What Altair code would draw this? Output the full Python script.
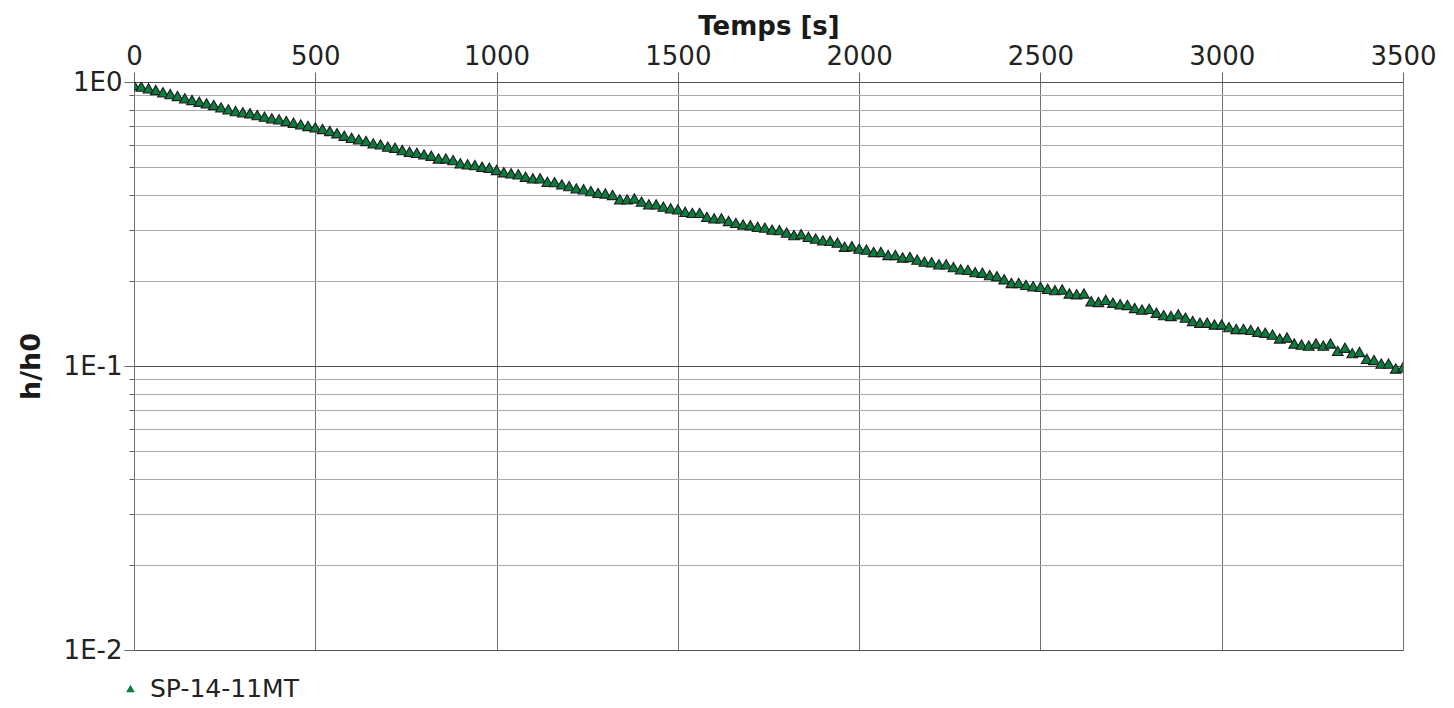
import altair as alt
import pandas as pd

# Time in seconds (one reading every 20 s)
times = list(range(0, 3501, 20))

# h/h0
h_ratio = [
    0.976, 0.963, 0.950, 0.937, 0.920, 0.907, 0.893, 0.876, 0.864, 0.852,
    0.841, 0.830, 0.814, 0.801, 0.790, 0.782, 0.776, 0.765, 0.755, 0.745,
    0.739, 0.729, 0.719, 0.709, 0.700, 0.692, 0.683, 0.672, 0.660, 0.647,
    0.636, 0.628, 0.620, 0.608, 0.603, 0.592, 0.587, 0.576, 0.568, 0.563,
    0.556, 0.550, 0.538, 0.538, 0.531, 0.517, 0.513, 0.510, 0.503, 0.499,
    0.490, 0.481, 0.477, 0.473, 0.464, 0.458, 0.458, 0.445, 0.444, 0.436,
    0.430, 0.422, 0.419, 0.413, 0.407, 0.405, 0.400, 0.386, 0.386, 0.389,
    0.379, 0.371, 0.371, 0.364, 0.359, 0.356, 0.349, 0.346, 0.346, 0.335,
    0.331, 0.331, 0.324, 0.319, 0.315, 0.313, 0.309, 0.307, 0.302, 0.301,
    0.295, 0.289, 0.291, 0.285, 0.281, 0.277, 0.276, 0.272, 0.263, 0.264,
    0.259, 0.257, 0.252, 0.252, 0.246, 0.246, 0.241, 0.242, 0.237, 0.233,
    0.232, 0.228, 0.228, 0.223, 0.219, 0.218, 0.214, 0.213, 0.209, 0.207,
    0.202, 0.196, 0.196, 0.193, 0.191, 0.190, 0.187, 0.185, 0.186, 0.180,
    0.179, 0.180, 0.169, 0.168, 0.171, 0.167, 0.165, 0.164, 0.160, 0.158,
    0.159, 0.154, 0.151, 0.150, 0.152, 0.148, 0.144, 0.142, 0.142, 0.140,
    0.140, 0.137, 0.135, 0.135, 0.134, 0.132, 0.131, 0.129, 0.125, 0.126,
    0.120, 0.119, 0.118, 0.120, 0.118, 0.120, 0.113, 0.116, 0.111, 0.112,
    0.106, 0.105, 0.102, 0.102, 0.098, 0.099,
]

series_name = "SP-14-11MT"

x_ticks = [0, 500, 1000, 1500, 2000, 2500, 3000, 3500]
y_ticks = [
    0.01, 0.02, 0.03, 0.04, 0.05, 0.06, 0.07, 0.08, 0.09,
    0.1, 0.2, 0.3, 0.4, 0.5, 0.6, 0.7, 0.8, 0.9, 1,
]

df = pd.DataFrame({"t": times, "h": h_ratio, "serie": [series_name] * len(times)})

FONT = "DejaVu Sans"
major = "datum.value == 1 || datum.value == 0.1 || datum.value == 0.01"

chart = (
    alt.Chart(df)
    .mark_point(
        shape="triangle-up",
        filled=True,
        size=115,
        stroke="#1c1c1c",
        strokeWidth=1.1,
        opacity=1,
        clip=True,
    )
    .encode(
        x=alt.X(
            "t:Q",
            scale=alt.Scale(domain=[0, 3500], nice=False, zero=False),
            axis=alt.Axis(
                orient="top",
                values=x_ticks,
                format="d",
                title="Temps [s]",
                titleFont=FONT,
                titleFontSize=26,
                titleFontWeight="bold",
                titleColor="#1a1a1a",
                titleBaseline="alphabetic",
                titleY=-48,
                labelFont=FONT,
                labelFontSize=26,
                labelColor="#222222",
                labelPadding=3,
                labelFlush=False,
                tickSize=10,
                tickColor="#666666",
                gridColor="#707070",
                gridWidth=1,
                domain=False,
            ),
        ),
        y=alt.Y(
            "h:Q",
            scale=alt.Scale(type="log", domain=[0.01, 1], nice=False),
            axis=alt.Axis(
                values=y_ticks,
                labelExpr="datum.value == 1 ? '1E0' : datum.value == 0.1 ? '1E-1' : datum.value == 0.01 ? '1E-2' : ''",
                title="h/h0",
                titleFont=FONT,
                titleFontSize=27,
                titleFontWeight="bold",
                titleColor="#1a1a1a",
                titlePadding=18,
                labelFont=FONT,
                labelFontSize=26,
                labelColor="#222222",
                labelPadding=2,
                labelFlush=False,
                tickColor="#666666",
                tickSize={"condition": {"test": major, "value": 10}, "value": 5},
                gridColor={"condition": {"test": major, "value": "#505050"}, "value": "#ababab"},
                gridWidth=1,
                domain=False,
            ),
        ),
        color=alt.Color(
            "serie:N",
            scale=alt.Scale(range=["#0b7d3e"]),
            legend=alt.Legend(
                title=None,
                orient="none",
                legendX=-16,
                legendY=594,
                symbolType="triangle-up",
                symbolSize=75,
                symbolStrokeWidth=0,
                labelFont=FONT,
                labelFontSize=25,
                labelColor="#222222",
                labelOffset=7,
            ),
        ),
    )
    .properties(
        width=1269,
        height=568,
        autosize=alt.AutoSizeParams(type="none"),
        padding={"left": 126, "top": 74, "right": 43, "bottom": 52},
    )
    .configure_view(stroke="#2a2a2a", strokeWidth=2)
    .configure(background="white")
)

chart.save("out.html", embed_options={"renderer": "svg", "actions": False})
